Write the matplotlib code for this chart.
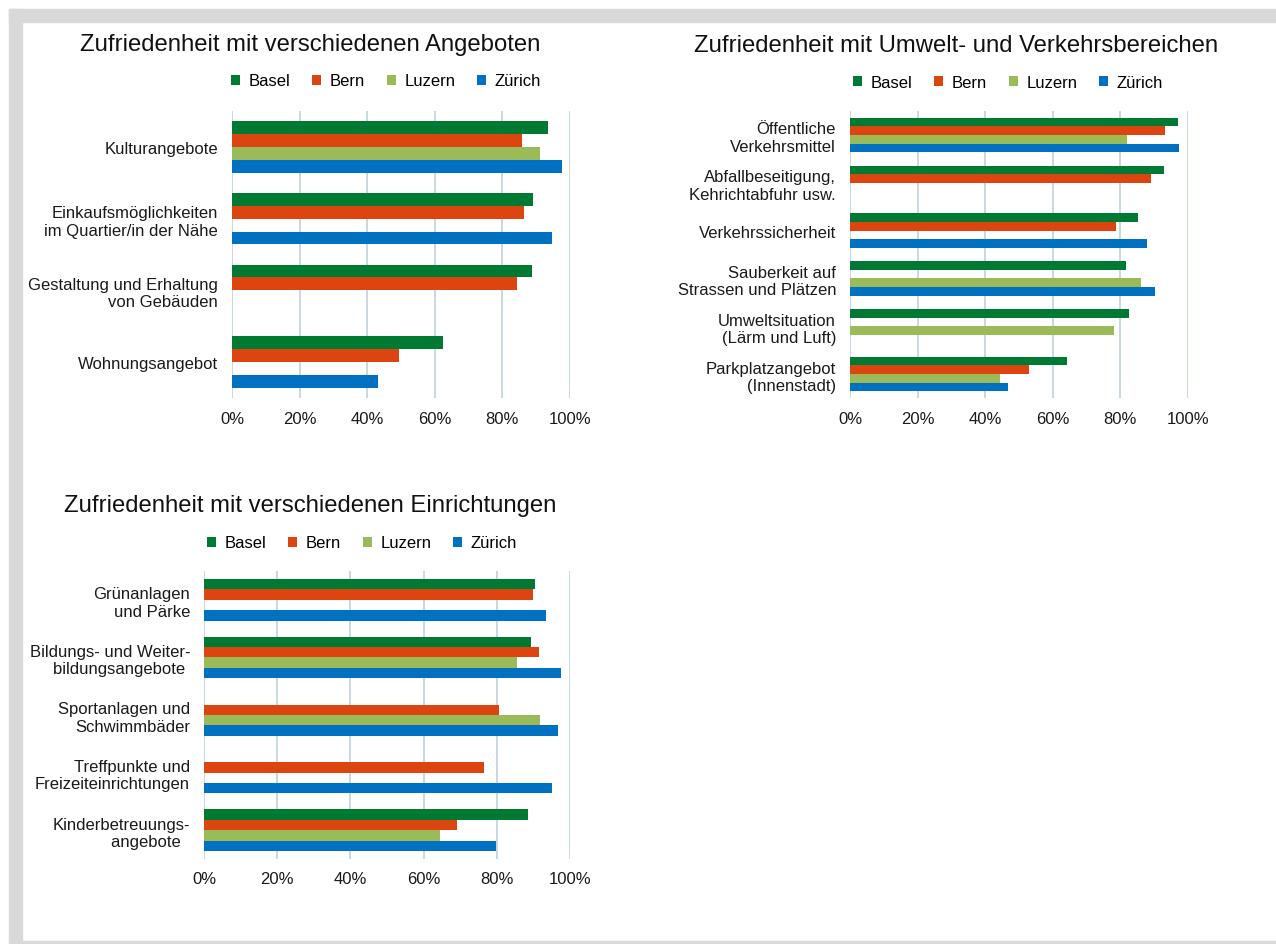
import numpy as np
import matplotlib
matplotlib.use( 'Agg' )
import matplotlib.pyplot as plt
from matplotlib.patches import Rectangle
from matplotlib.ticker import PercentFormatter

plt.rcParams['font.family'] = ['Liberation Sans', 'DejaVu Sans']

nan = np.nan

cities = ['Basel', 'Bern', 'Luzern', 'Zürich']
colors = ['#007a33', '#dc4510', '#9bbb59', '#0070c0']

angebote_title = 'Zufriedenheit mit verschiedenen Angeboten'
angebote_labels = ['Kulturangebote', 'Einkaufsmöglichkeiten\nim Quartier/in der Nähe',
                   'Gestaltung und Erhaltung\nvon Gebäuden', 'Wohnungsangebot']
angebote_basel = [93.4, 89.1, 88.8, 62.4]
angebote_bern = [85.8, 86.4, 84.3, 49.3]
angebote_luzern = [91.1, nan, nan, nan]
angebote_zuerich = [97.5, 94.8, nan, 43.1]

umwelt_title = 'Zufriedenheit mit Umwelt- und Verkehrsbereichen'
umwelt_labels = ['Öffentliche\nVerkehrsmittel', 'Abfallbeseitigung,\nKehrichtabfuhr usw.',
                 'Verkehrssicherheit', 'Sauberkeit auf\nStrassen und Plätzen',
                 'Umweltsituation\n(Lärm und Luft)', 'Parkplatzangebot\n(Innenstadt)']
umwelt_basel = [97.1, 92.9, 85.1, 81.8, 82.4, 64.3]
umwelt_bern = [93.1, 89.1, 78.8, nan, nan, 53.1]
umwelt_luzern = [82.1, nan, nan, 86.0, 78.2, 44.5]
umwelt_zuerich = [97.2, nan, 87.9, 90.1, nan, 46.8]

einr_title = 'Zufriedenheit mit verschiedenen Einrichtungen'
einr_labels = ['Grünanlagen\nund Pärke', 'Bildungs- und Weiter-\nbildungsangebote ',
               'Sportanlagen und\nSchwimmbäder', 'Treffpunkte und\nFreizeiteinrichtungen',
               'Kinderbetreuungs-\nangebote  ']
einr_basel = [90.5, 89.4, nan, nan, 88.5]
einr_bern = [89.8, 91.4, 80.6, 76.5, 69.2]
einr_luzern = [nan, 85.4, 91.8, nan, 64.5]
einr_zuerich = [93.5, 97.5, 96.7, 95.2, 79.8]

W, H = 1276, 945
fig = plt.figure( figsize=( W / 100, H / 100 ), dpi=100 )
fig.patch.set_facecolor( 'white' )

# grey frame round the sheet
frame = '#d9d9d9'
def px_rect( x0, y0, x1, y1 ):
    fig.patches.append( Rectangle( ( x0 / W, 1 - y1 / H ), ( x1 - x0 ) / W, ( y1 - y0 ) / H,
                                   transform=fig.transFigure, color=frame, zorder=0 ) )
px_rect( 9, 10, W, 23 )
px_rect( 9, 10, 22, 942 )
px_rect( 9, 942, W, H )

bar_h = 0.18

def panel( box, title, title_xy, legend_xy, labels, series, tick_pad ):
    x0, y0, x1, y1 = box
    ax = fig.add_axes( [x0 / W, 1 - y1 / H, ( x1 - x0 ) / W, ( y1 - y0 ) / H] )
    y = np.arange( len( labels ) )
    for j, ( vals, name, col ) in enumerate( zip( series, cities, colors ) ):
        vals = np.array( vals, dtype=float )
        ok = ~np.isnan( vals )
        ax.barh( y[ok] + ( j - 1.5 ) * bar_h, vals[ok] / 100, height=bar_h,
                 color=col, linewidth=0, zorder=3, label=name )
    ax.set_xlim( 0, 1 )
    ax.set_ylim( len( labels ) - 0.5, -0.5 )
    ax.set_xticks( np.arange( 0, 1.01, 0.2 ) )
    ax.xaxis.set_major_formatter( PercentFormatter( 1.0, decimals=0 ) )
    ax.set_yticks( y )
    ax.set_yticklabels( labels, ha='right', linespacing=1.2 )
    ax.tick_params( axis='y', length=0, pad=10, labelsize=12, labelcolor='#1a1a1a' )
    ax.tick_params( axis='x', length=0, pad=tick_pad, labelsize=12, labelcolor='#1a1a1a' )
    ax.grid( axis='x', color='#bfd2dc', linewidth=1.2, zorder=0 )
    for s in ax.spines.values():
        s.set_visible( False )
    fig.text( title_xy[0] / W, 1 - title_xy[1] / H, title, ha='center', va='center',
              fontsize=17.2, color='#111111' )
    ax.legend( loc='center', bbox_to_anchor=( legend_xy[0] / W, 1 - legend_xy[1] / H ),
               bbox_transform=fig.transFigure, ncol=4, frameon=False, fontsize=12,
               handlelength=0.55, handleheight=0.55, handletextpad=0.5,
               columnspacing=1.3, borderpad=0 )
    return ax

panel( ( 232, 112, 570, 399 ), angebote_title, ( 310, 45 ), ( 386, 82 ), angebote_labels,
       [angebote_basel, angebote_bern, angebote_luzern, angebote_zuerich], 9 )
panel( ( 850, 112, 1188, 399 ), umwelt_title, ( 956, 46 ), ( 1008, 83 ), umwelt_labels,
       [umwelt_basel, umwelt_bern, umwelt_luzern, umwelt_zuerich], 9 )
panel( ( 204, 572, 570, 860 ), einr_title, ( 310, 506 ), ( 362, 544 ), einr_labels,
       [einr_basel, einr_bern, einr_luzern, einr_zuerich], 8.5 )

fig.savefig( 'out.png', dpi=100 )
